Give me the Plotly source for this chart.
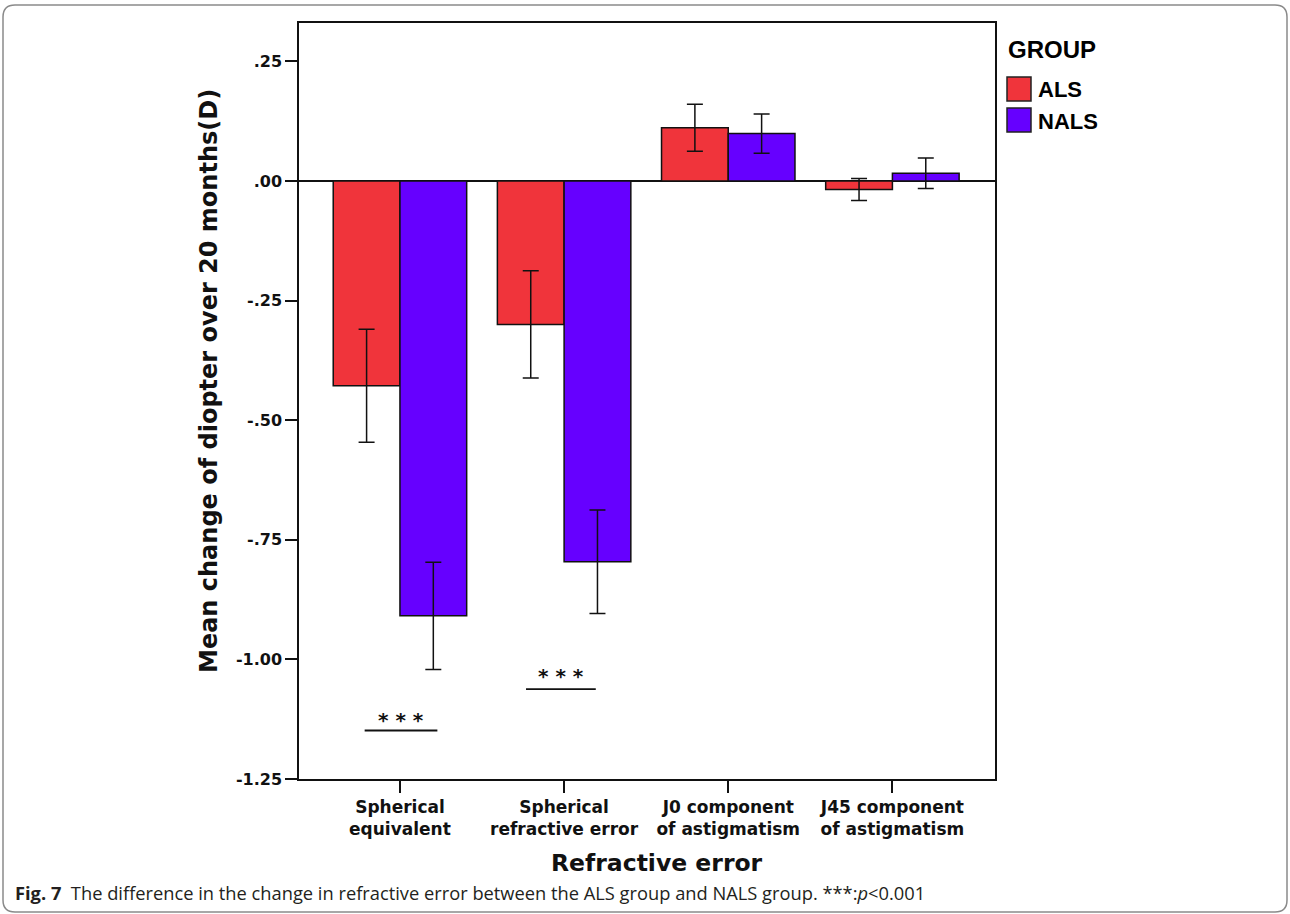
import plotly.graph_objects as go

categories = ["Spherical<br>equivalent", "Spherical<br>refractive error",
              "J0 component<br>of astigmatism", "J45 component<br>of astigmatism"]
als_mean = [-0.428, -0.300, 0.111, -0.018]
als_err = [0.118, 0.112, 0.049, 0.023]
nals_mean = [-0.909, -0.796, 0.099, 0.016]
nals_err = [0.112, 0.108, 0.041, 0.032]
ytick_vals = [0.25, 0.0, -0.25, -0.5, -0.75, -1.0, -1.25]
ytick_text = [".25", ".00", "-.25", "-.50", "-.75", "-1.00", "-1.25"]

RED = "#F0343B"
PURPLE = "#6600FF"

W, H = 1290, 914
PL, PR, PT, PB = 299, 995, 23, 779


def X(px):
    return (px - PL) / (PR - PL)


def Y(py):
    return (PB - py) / (PB - PT)


fig = go.Figure()
fig.add_trace(go.Bar(
    name="ALS", x=categories, y=als_mean,
    marker=dict(color=RED, line=dict(color="#111", width=1.5)),
    error_y=dict(type="data", array=als_err, color="#111", thickness=1.5, width=8),
    showlegend=False))
fig.add_trace(go.Bar(
    name="NALS", x=categories, y=nals_mean,
    marker=dict(color=PURPLE, line=dict(color="#111", width=1.5)),
    error_y=dict(type="data", array=nals_err, color="#111", thickness=1.5, width=8),
    showlegend=False))

shapes = []
annotations = []

# significance markers
for (xa, xb, yl, ys) in [(-0.215, 0.228, -1.1486, -1.120), (0.768, 1.193, -1.062, -1.0286)]:
    shapes.append(dict(type="line", xref="x", yref="y", x0=xa, x1=xb, y0=yl, y1=yl,
                       line=dict(color="#111", width=1.8)))
    annotations.append(dict(xref="x", yref="y", x=(xa + xb) / 2, y=ys, yshift=-3,
                            text="<b>* * *</b>", showarrow=False,
                            font=dict(family="DejaVu Sans", size=20, color="#111"),
                            xanchor="center", yanchor="middle"))

# axis titles
annotations.append(dict(xref="paper", yref="paper", x=X(209), y=Y(381), textangle=-90,
                        text="<b>Mean change of diopter over 20 months(D)</b>", showarrow=False,
                        xanchor="center", yanchor="middle",
                        font=dict(family="DejaVu Sans", size=24, color="#111")))
annotations.append(dict(xref="paper", yref="paper", x=X(657), y=Y(863),
                        text="<b>Refractive error</b>", showarrow=False,
                        xanchor="center", yanchor="middle",
                        font=dict(family="DejaVu Sans", size=23.5, color="#111")))

# legend (manual)
annotations.append(dict(xref="paper", yref="paper", x=X(1006), y=Y(50), text="<b>GROUP</b>",
                        showarrow=False, xanchor="left", yanchor="middle",
                        font=dict(family="Liberation Sans", size=24, color="#000")))
for name, col, top in [("ALS", RED, 77), ("NALS", PURPLE, 108)]:
    shapes.append(dict(type="rect", xref="paper", yref="paper", x0=X(1007), x1=X(1031),
                       y0=Y(top + 24), y1=Y(top), fillcolor=col,
                       line=dict(color="#222", width=1.5)))
    annotations.append(dict(xref="paper", yref="paper", x=X(1036), y=Y(top + 13), text="<b>%s</b>" % name,
                            showarrow=False, xanchor="left", yanchor="middle",
                            font=dict(family="Liberation Sans", size=22, color="#000")))

# caption
annotations.append(dict(xref="paper", yref="paper", x=X(13), y=Y(892), xanchor="left", yanchor="middle",
                        text="<b>Fig. 7</b>\u00a0\u00a0The difference in the change in refractive error between the ALS group and NALS group. ***:<i>p</i>&lt;0.001",
                        showarrow=False, font=dict(family="Open Sans", size=18.3, color="#231f20")))

# rounded frame
fx0, fy0, fx1, fy1, r = 3, 5, 1287, 912, 12
path = (f"M {X(fx0 + r)},{Y(fy0)} L {X(fx1 - r)},{Y(fy0)} Q {X(fx1)},{Y(fy0)} {X(fx1)},{Y(fy0 + r)} "
        f"L {X(fx1)},{Y(fy1 - r)} Q {X(fx1)},{Y(fy1)} {X(fx1 - r)},{Y(fy1)} "
        f"L {X(fx0 + r)},{Y(fy1)} Q {X(fx0)},{Y(fy1)} {X(fx0)},{Y(fy1 - r)} "
        f"L {X(fx0)},{Y(fy0 + r)} Q {X(fx0)},{Y(fy0)} {X(fx0 + r)},{Y(fy0)} Z")
shapes.append(dict(type="path", xref="paper", yref="paper", path=path,
                   line=dict(color="#8a8a8a", width=1.5), fillcolor="rgba(0,0,0,0)"))

fig.update_layout(
    width=W, height=H,
    margin=dict(l=PL, r=W - PR, t=PT, b=H - PB, autoexpand=False),
    paper_bgcolor="white", plot_bgcolor="white",
    barmode="group", bargap=0.187, bargroupgap=0,
    shapes=shapes, annotations=annotations,
    xaxis=dict(
        range=[-0.615, 3.625], showgrid=False, zeroline=False,
        showline=True, mirror=True, linecolor="#111", linewidth=1.5,
        ticks="outside", ticklen=12, tickwidth=1.5, tickcolor="#111",
        tickfont=dict(family="DejaVu Sans", size=17, color="#111"),
        tickprefix="<b>", ticksuffix="</b>"),
    yaxis=dict(
        range=[-1.25, 0.33], showgrid=False,
        zeroline=True, zerolinecolor="#111", zerolinewidth=1.5,
        showline=True, mirror=True, linecolor="#111", linewidth=1.5,
        ticks="outside", ticklen=12, tickwidth=1.5, tickcolor="#111",
        tickvals=ytick_vals, ticktext=["<b>%s</b>" % t for t in ytick_text],
        tickfont=dict(family="DejaVu Sans", size=16, color="#111")),
)

fig.write_html("out.html")
